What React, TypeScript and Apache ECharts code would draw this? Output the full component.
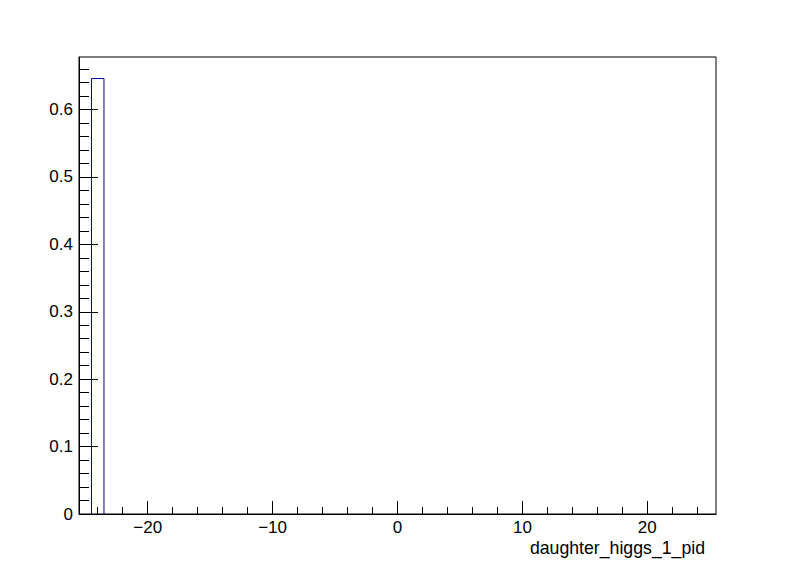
import React, { useEffect, useRef } from "react";
import * as echarts from "echarts";

// Histogram: 51 bins of width 1 from -25.5 to 25.5 (only bin at -24 non-zero)
const binLows: number[] = [-24.5];
const binHighs: number[] = [-23.5];
const binValues: number[] = [0.646];

const xRange = [-25.5, 25.5];
const yRange = [0, 0.678];

const xMajorTicks = [-20, -10, 0, 10, 20];
const xMinorTicks = [-24, -22, -18, -16, -14, -12, -8, -6, -4, -2, 2, 4, 6, 8, 12, 14, 16, 18, 22, 24];
const yMajorTicks = [0, 0.1, 0.2, 0.3, 0.4, 0.5, 0.6];
const yMinorTicks = [
  0.02, 0.04, 0.06, 0.08, 0.12, 0.14, 0.16, 0.18, 0.22, 0.24, 0.26, 0.28,
  0.32, 0.34, 0.36, 0.38, 0.42, 0.44, 0.46, 0.48, 0.52, 0.54, 0.56, 0.58,
  0.62, 0.64, 0.66,
];
const xTitle = "daughter_higgs_1_pid";

const FONT = "'Liberation Sans', Arial, Helvetica, sans-serif";

export default function App() {
  const ref = useRef<HTMLDivElement>(null);
  useEffect(() => {
    if (!ref.current) return;
    const chart = echarts.init(ref.current, null, { renderer: "svg" });
    const data = binLows.map((lo, i) => [lo, binHighs[i], binValues[i]]);
    chart.setOption({
      animation: false,
      backgroundColor: "#ffffff",
      grid: {
        left: 79,
        top: 57,
        right: 80,
        bottom: 58,
        show: true,
        borderColor: "#000",
        borderWidth: 1,
        backgroundColor: "transparent",
      },
      xAxis: [
        {
          type: "value",
          min: xRange[0],
          max: xRange[1],
          position: "bottom",
          axisLine: { show: true, onZero: false, lineStyle: { color: "#000", width: 1 } },
          axisTick: {
            show: true,
            inside: true,
            length: 13,
            customValues: xMajorTicks,
            lineStyle: { color: "#000", width: 1 },
          },
          axisLabel: {
            show: true,
            customValues: xMajorTicks,
            margin: 5,
            color: "#000",
            fontFamily: FONT,
            fontSize: 17,
            lineHeight: 17,
            formatter: (v: number) => String(v).replace("-", "\u2212"),
          },
          splitLine: { show: false },
        },
        {
          type: "value",
          min: xRange[0],
          max: xRange[1],
          position: "bottom",
          axisLine: { show: false, onZero: false },
          axisTick: {
            show: true,
            inside: true,
            length: 7,
            customValues: xMinorTicks,
            lineStyle: { color: "#000", width: 1 },
          },
          axisLabel: { show: false },
          splitLine: { show: false },
        },
      ],
      yAxis: [
        {
          type: "value",
          min: yRange[0],
          max: yRange[1],
          position: "left",
          axisLine: { show: true, onZero: false, lineStyle: { color: "#000", width: 1 } },
          axisTick: {
            show: true,
            inside: true,
            length: 19,
            customValues: yMajorTicks,
            lineStyle: { color: "#000", width: 1 },
          },
          axisLabel: {
            show: true,
            customValues: yMajorTicks,
            margin: 6,
            color: "#000",
            fontFamily: FONT,
            fontSize: 17,
            formatter: (v: number) => (v === 0 ? "0" : String(Math.round(v * 10) / 10)),
          },
          splitLine: { show: false },
        },
        {
          type: "value",
          min: yRange[0],
          max: yRange[1],
          position: "left",
          axisLine: { show: false, onZero: false },
          axisTick: {
            show: true,
            inside: true,
            length: 10,
            customValues: yMinorTicks,
            lineStyle: { color: "#000", width: 1 },
          },
          axisLabel: { show: false },
          splitLine: { show: false },
        },
      ],
      series: [
        {
          type: "custom",
          xAxisIndex: 0,
          yAxisIndex: 0,
          data,
          clip: false,
          renderItem: (params: any, api: any) => {
            const lo = api.value(0);
            const hi = api.value(1);
            const v = api.value(2);
            const p0 = api.coord([lo, 0]);
            const p1 = api.coord([lo, v]);
            const p2 = api.coord([hi, v]);
            const p3 = api.coord([hi, 0]);
            return {
              type: "polyline",
              shape: { points: [p0, p1, p2, p3] },
              style: { stroke: "#000099", lineWidth: 1, fill: "none" },
            };
          },
        },
      ],
      graphic: [
        {
          type: "text",
          right: 91,
          top: 539,
          style: {
            text: xTitle,
            fill: "#000",
            font: `17.7px ${FONT}`,
            lineHeight: 17.7,
          },
        },
      ],
    });
    return () => chart.dispose();
  }, []);
  return (
    <div
      ref={ref}
      style={{ position: "fixed", left: 0, top: 0, width: 796, height: 572 }}
    />
  );
}
